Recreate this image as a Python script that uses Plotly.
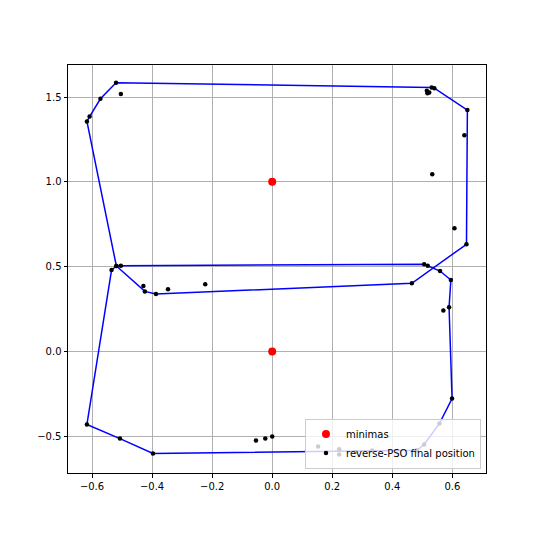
import plotly.graph_objects as go

# Path of the blue polyline (in drawing order)
path_x = [-0.520, 0.531, 0.540, 0.650, 0.647, 0.465, -0.387, -0.424, -0.519, -0.504,
          0.506, 0.518, 0.559, 0.595, 0.589, 0.599, 0.557, 0.506, 0.482, -0.397,
          -0.507, -0.617, -0.535, -0.519, -0.617, -0.608, -0.572, -0.520]
path_y = [1.584, 1.557, 1.552, 1.423, 0.632, 0.402, 0.338, 0.354, 0.504, 0.505,
          0.514, 0.505, 0.474, 0.421, 0.260, -0.278, -0.425, -0.549, -0.583, -0.602,
          -0.514, -0.431, 0.480, 0.504, 1.356, 1.385, 1.490, 1.584]

# Final positions not lying on the path
extra_x = [-0.504, 0.515, 0.517, 0.523, 0.640, 0.533, 0.607, -0.429, -0.347, -0.223,
           0.570, -0.054, -0.023, 0.000, 0.153, 0.223, 0.223, 0.278, 0.333]
extra_y = [1.518, 1.537, 1.523, 1.527, 1.275, 1.045, 0.726, 0.386, 0.366, 0.396,
           0.242, -0.526, -0.514, -0.502, -0.561, -0.577, -0.608, -0.593, -0.585]

final_x = path_x[:-1] + extra_x
final_y = path_y[:-1] + extra_y

minima_x = [0.0, 0.0]
minima_y = [1.0, 0.0]

xtick_vals = [-0.6, -0.4, -0.2, 0.0, 0.2, 0.4, 0.6]
xtick_text = ["\u22120.6", "\u22120.4", "\u22120.2", "0.0", "0.2", "0.4", "0.6"]
ytick_vals = [-0.5, 0.0, 0.5, 1.0, 1.5]
ytick_text = ["\u22120.5", "0.0", "0.5", "1.0", "1.5"]

fig = go.Figure()
fig.add_trace(go.Scatter(x=path_x, y=path_y, mode="lines",
                         line=dict(color="#0000ff", width=1.5), showlegend=False,
                         hoverinfo="skip"))
fig.add_trace(go.Scatter(x=minima_x, y=minima_y, mode="markers", name="minimas",
                         marker=dict(color="#ff0000", size=8)))
fig.add_trace(go.Scatter(x=final_x, y=final_y, mode="markers",
                         name="reverse-PSO final position",
                         marker=dict(color="#000000", size=4.5)))

axis_common = dict(showgrid=True, gridcolor="#b0b0b0", gridwidth=0.8,
                   zeroline=False, showline=True, linecolor="#000000", linewidth=1,
                   mirror=True, ticks="outside", ticklen=3.5, tickwidth=0.8,
                   tickcolor="#000000", tickfont=dict(family="DejaVu Sans", size=10,
                                                      color="#000000"))
fig.update_xaxes(range=[-0.68, 0.712], tickmode="array", tickvals=xtick_vals,
                 ticktext=xtick_text, **axis_common)
fig.update_yaxes(range=[-0.717, 1.689], tickmode="array", tickvals=ytick_vals,
                 ticktext=ytick_text, **axis_common)

fig.update_layout(
    width=540, height=540,
    margin=dict(l=60, r=62, t=57, b=75),
    paper_bgcolor="white", plot_bgcolor="white",
    font=dict(family="DejaVu Sans", size=10, color="#000000"),
    legend=dict(x=0.988, y=0.011, xanchor="right", yanchor="bottom",
                bgcolor="rgba(255,255,255,0.8)", bordercolor="#cccccc",
                borderwidth=1, font=dict(size=10), tracegroupgap=0,
                itemwidth=30),
)

fig.write_html("out.html")
